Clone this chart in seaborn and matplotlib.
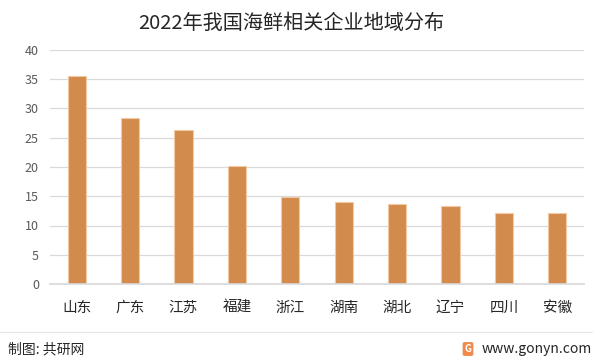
import matplotlib.pyplot as plt
import seaborn as sns
import pandas as pd
from matplotlib.lines import Line2D

provinces = ["山东", "广东", "江苏", "福建", "浙江", "湖南", "湖北", "辽宁", "四川", "安徽"]
counts = [35.5, 28.4, 26.4, 20.2, 14.9, 14.0, 13.7, 13.3, 12.2, 12.2]
yticks = [0, 5, 10, 15, 20, 25, 30, 35, 40]

df = pd.DataFrame({"province": provinces, "count": counts})

sns.set_theme(style="white")
plt.rcParams["font.family"] = ["Noto Sans CJK SC", "DejaVu Sans"]

fig = plt.figure(figsize=(5.99, 3.6), dpi=100)
ax = fig.add_axes([50 / 599, 1 - 284 / 360, 534 / 599, 234 / 360])

sns.barplot(data=df, x="province", y="count", ax=ax, color="#D38B4D",
            width=0.34, edgecolor="#F2C9A4", linewidth=0.8, saturation=1)

ax.set_ylim(0, 40)
ax.set_yticks(yticks)
ax.yaxis.grid(True, color="#D9D9D9", linewidth=0.9)
ax.set_axisbelow(True)
for s in ["top", "right", "left"]:
    ax.spines[s].set_visible(False)
ax.spines["bottom"].set_color("#D9D9D9")
ax.set_xlabel("")
ax.set_ylabel("")
ax.tick_params(axis="y", length=0, pad=8, labelsize=9, labelcolor="#595959")
ax.tick_params(axis="x", length=0, pad=12, labelsize=10.5, labelcolor="#262626")
ax.set_xlim(-0.5, len(provinces) - 0.5)

fig.text(291 / 599, 1 - 23 / 360, "2022年我国海鲜相关企业地域分布", ha="center", va="center",
         fontsize=14.5, color="#262626")

fig.add_artist(Line2D([0, 592 / 599], [1 - 332 / 360] * 2, color="#E5E5E5", linewidth=0.8))
fig.text(8 / 599, 1 - 349 / 360, "制图: 共研网", ha="left", va="center", fontsize=10, color="#262626")
fig.text(592 / 599, 1 - 349 / 360, "www.gonyn.com", ha="right", va="center", fontsize=10,
         color="#262626")
fig.text(468 / 599, 1 - 349 / 360, "G", ha="center", va="center", fontsize=7, color="white",
         fontweight="bold",
         bbox=dict(boxstyle="round,pad=0.2", fc="#F08A4B", ec="none"))

fig.savefig("out.png", dpi=100)
